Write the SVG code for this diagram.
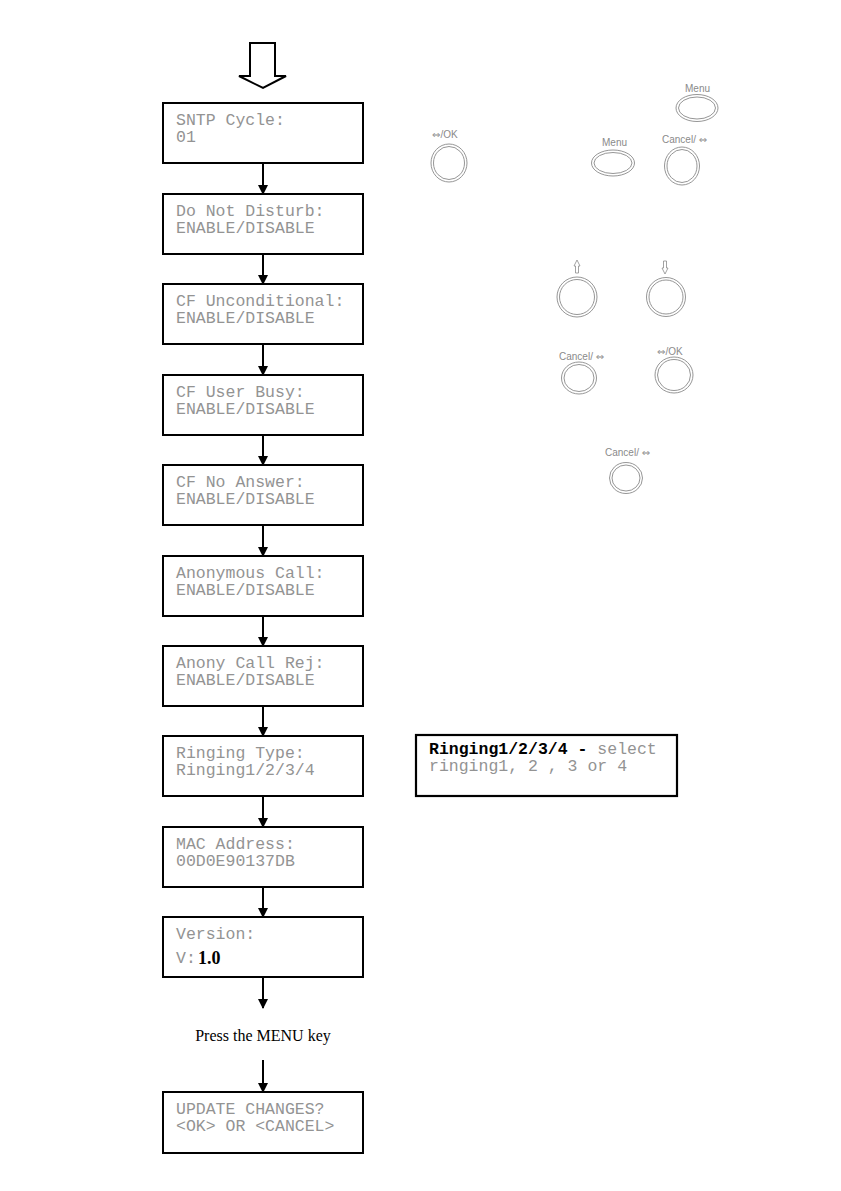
<svg xmlns="http://www.w3.org/2000/svg" width="841" height="1191" viewBox="0 0 841 1191">
<defs>
<style>
.box{fill:#fff;stroke:#000;stroke-width:2}
.t{font-family:"Liberation Mono","Courier New",monospace;font-size:16.5px;fill:#939393}
.lbl{font-family:"Liberation Sans",Arial,"DejaVu Sans",sans-serif;font-size:10px;fill:#8a8a8a}
.sym{font-family:"DejaVu Sans",sans-serif;font-size:10px}
.btn{fill:none;stroke:#8a8a8a;stroke-width:0.9}
.conn{stroke:#000;stroke-width:2;fill:none}
</style>
<marker id="ah" markerWidth="10" markerHeight="10" refX="9" refY="5" orient="auto" markerUnits="userSpaceOnUse">
<path d="M0,0 L10,5 L0,10 Z" fill="#000"/>
</marker>
</defs>
<rect width="841" height="1191" fill="#fff"/>

<g id="start-arrow">
<path d="M250,43 L275,43 L275,76 L286,76 L263,88 L239,76 L250,76 Z" fill="#fff" stroke="#000" stroke-width="2" stroke-linejoin="miter"/>
</g>

<g id="connectors">
<line class="conn" x1="263" y1="163" x2="263" y2="194" marker-end="url(#ah)"/>
<line class="conn" x1="263" y1="254" x2="263" y2="284" marker-end="url(#ah)"/>
<line class="conn" x1="263" y1="344" x2="263" y2="375" marker-end="url(#ah)"/>
<line class="conn" x1="263" y1="435" x2="263" y2="465" marker-end="url(#ah)"/>
<line class="conn" x1="263" y1="525" x2="263" y2="556" marker-end="url(#ah)"/>
<line class="conn" x1="263" y1="616" x2="263" y2="646" marker-end="url(#ah)"/>
<line class="conn" x1="263" y1="706" x2="263" y2="736" marker-end="url(#ah)"/>
<line class="conn" x1="263" y1="796" x2="263" y2="827" marker-end="url(#ah)"/>
<line class="conn" x1="263" y1="887" x2="263" y2="917" marker-end="url(#ah)"/>
<line class="conn" x1="263" y1="977" x2="263" y2="1008" marker-end="url(#ah)"/>
<line class="conn" x1="263" y1="1060" x2="263" y2="1092" marker-end="url(#ah)"/>
</g>

<g id="n1"><rect class="box" x="163" y="103" width="200" height="60"/>
<text class="t" x="176" y="125">SNTP Cycle:</text><text class="t" x="176" y="142">01</text></g>
<g id="n2"><rect class="box" x="163" y="194" width="200" height="60"/>
<text class="t" x="176" y="216">Do Not Disturb:</text><text class="t" x="176" y="233">ENABLE/DISABLE</text></g>
<g id="n3"><rect class="box" x="163" y="284" width="200" height="60"/>
<text class="t" x="176" y="306">CF Unconditional:</text><text class="t" x="176" y="323">ENABLE/DISABLE</text></g>
<g id="n4"><rect class="box" x="163" y="375" width="200" height="60"/>
<text class="t" x="176" y="397">CF User Busy:</text><text class="t" x="176" y="414">ENABLE/DISABLE</text></g>
<g id="n5"><rect class="box" x="163" y="465" width="200" height="60"/>
<text class="t" x="176" y="487">CF No Answer:</text><text class="t" x="176" y="504">ENABLE/DISABLE</text></g>
<g id="n6"><rect class="box" x="163" y="556" width="200" height="60"/>
<text class="t" x="176" y="578">Anonymous Call:</text><text class="t" x="176" y="595">ENABLE/DISABLE</text></g>
<g id="n7"><rect class="box" x="163" y="646" width="200" height="60"/>
<text class="t" x="176" y="668">Anony Call Rej:</text><text class="t" x="176" y="685">ENABLE/DISABLE</text></g>
<g id="n8"><rect class="box" x="163" y="736" width="200" height="60"/>
<text class="t" x="176" y="758">Ringing Type:</text><text class="t" x="176" y="775">Ringing1/2/3/4</text></g>
<g id="n9"><rect class="box" x="163" y="827" width="200" height="60"/>
<text class="t" x="176" y="849">MAC Address:</text><text class="t" x="176" y="866">00D0E90137DB</text></g>
<g id="n10"><rect class="box" x="163" y="917" width="200" height="60"/>
<text class="t" x="176" y="939">Version:</text><text class="t" x="176" y="963">V:</text>
<text x="198" y="964" font-family="Liberation Serif,'Times New Roman',serif" font-weight="bold" font-size="18" fill="#000">1.0</text></g>
<g id="press"><text x="263" y="1041" text-anchor="middle" font-family="Liberation Serif,'Times New Roman',serif" font-size="16" fill="#000">Press the MENU key</text></g>
<g id="n11"><rect class="box" x="163" y="1092" width="200" height="61"/>
<text class="t" x="176" y="1114">UPDATE CHANGES?</text><text class="t" x="176" y="1131">&lt;OK&gt; OR &lt;CANCEL&gt;</text></g>

<g id="note-ringing"><rect x="416" y="735" width="261" height="61" fill="#fff" stroke="#000" stroke-width="2.2"/>
<text class="t" x="429" y="754"><tspan font-weight="bold" fill="#000">Ringing1/2/3/4 -</tspan> select</text>
<text class="t" x="429" y="771">ringing1, 2 , 3 or 4</text></g>

<g id="btn-ok1"><text class="lbl" x="432" y="138"><tspan class="sym">⇔</tspan>/OK</text>
<ellipse class="btn" cx="449" cy="163" rx="18" ry="19"/><ellipse class="btn" cx="449" cy="163" rx="15.5" ry="16.5"/></g>
<g id="btn-menu1"><text class="lbl" x="685" y="92" font-size="9">Menu</text>
<ellipse class="btn" cx="697" cy="108" rx="21" ry="13.5"/><ellipse class="btn" cx="697" cy="108" rx="18.5" ry="11"/></g>
<g id="btn-menu2"><text class="lbl" x="602" y="146" font-size="9">Menu</text>
<ellipse class="btn" cx="613" cy="163" rx="21.5" ry="13"/><ellipse class="btn" cx="613" cy="163" rx="19" ry="10.5"/></g>
<g id="btn-cancel1"><text class="lbl" x="662" y="143">Cancel/ <tspan class="sym">⇔</tspan></text>
<ellipse class="btn" cx="682" cy="166" rx="17.5" ry="19"/><ellipse class="btn" cx="682" cy="166" rx="15" ry="16.5"/></g>

<g id="btn-up"><path d="M577,260 L580,266 L578.5,266 L578.5,273 L575.5,273 L575.5,266 L574,266 Z" fill="none" stroke="#8a8a8a" stroke-width="0.8"/>
<circle class="btn" cx="577" cy="297" r="20"/><circle class="btn" cx="577" cy="297" r="17.5"/></g>
<g id="btn-down"><path d="M665,274 L668,268 L666.5,268 L666.5,261 L663.5,261 L663.5,268 L662,268 Z" fill="none" stroke="#8a8a8a" stroke-width="0.8"/>
<circle class="btn" cx="666" cy="297" r="19.5"/><circle class="btn" cx="666" cy="297" r="17"/></g>

<g id="btn-cancel2"><text class="lbl" x="559" y="360">Cancel/ <tspan class="sym">⇔</tspan></text>
<ellipse class="btn" cx="579" cy="378" rx="17.5" ry="16"/><ellipse class="btn" cx="579" cy="378" rx="15" ry="13.5"/></g>
<g id="btn-ok2"><text class="lbl" x="657" y="355"><tspan class="sym">⇔</tspan>/OK</text>
<ellipse class="btn" cx="674" cy="375" rx="19" ry="18"/><ellipse class="btn" cx="674" cy="375" rx="16.5" ry="15.5"/></g>
<g id="btn-cancel3"><text class="lbl" x="605" y="456">Cancel/ <tspan class="sym">⇔</tspan></text>
<ellipse class="btn" cx="626" cy="478" rx="16.5" ry="15.5"/><ellipse class="btn" cx="626" cy="478" rx="14" ry="13"/></g>
</svg>
